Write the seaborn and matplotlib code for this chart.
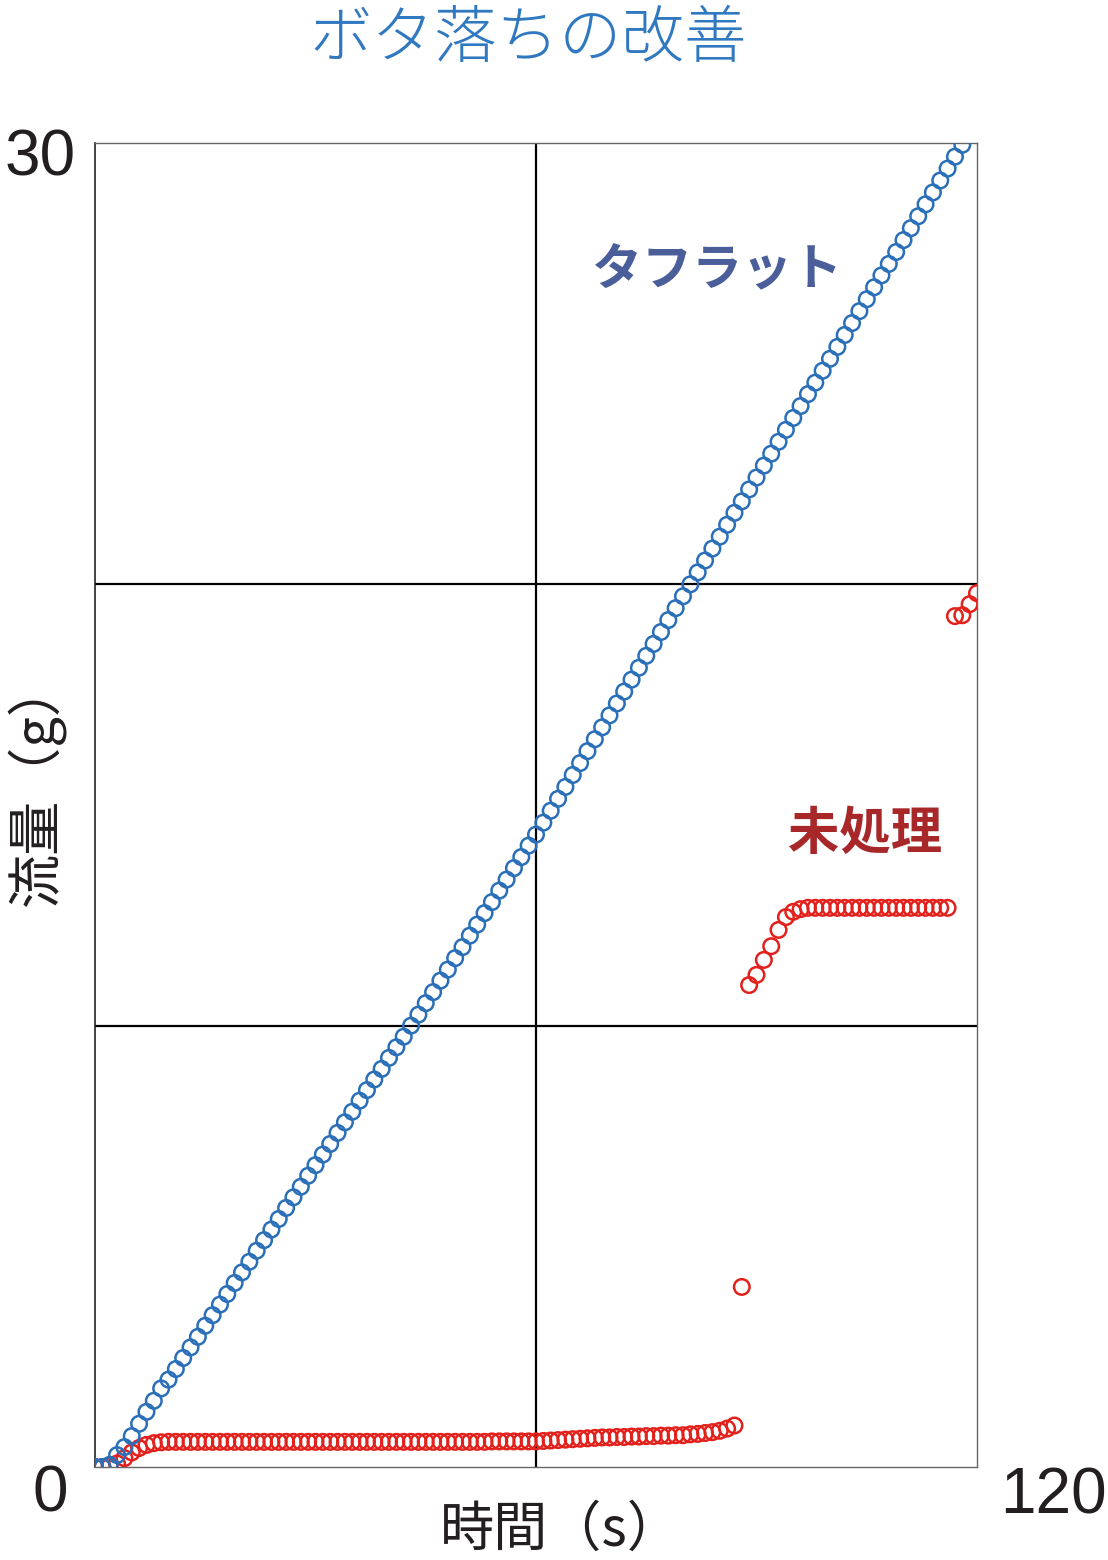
import seaborn as sns
import matplotlib.pyplot as plt
import pandas as pd

# 時間 (s)
t_blue = list(range(0, 119))
t_red = list(range(0, 121))

# タフラット
flow_blue = [
    0.00, 0.00, 0.05, 0.27, 0.45, 0.70, 0.98, 1.25, 1.50, 1.78,
    1.98, 2.22, 2.47, 2.71, 2.95, 3.20, 3.44, 3.68, 3.92, 4.17,
    4.41, 4.65, 4.90, 5.14, 5.38, 5.62, 5.87, 6.11, 6.35, 6.60,
    6.84, 7.08, 7.32, 7.57, 7.81, 8.05, 8.30, 8.54, 8.78, 9.02,
    9.27, 9.51, 9.75, 10.00, 10.25, 10.51, 10.76, 11.02, 11.27, 11.53,
    11.78, 12.04, 12.29, 12.55, 12.80, 13.06, 13.31, 13.57, 13.82, 14.08,
    14.33, 14.60, 14.87, 15.14, 15.41, 15.68, 15.95, 16.22, 16.49, 16.76,
    17.03, 17.30, 17.57, 17.84, 18.11, 18.38, 18.65, 18.92, 19.19, 19.46,
    19.73, 20.00, 20.27, 20.54, 20.81, 21.08, 21.35, 21.62, 21.88, 22.15,
    22.42, 22.69, 22.96, 23.23, 23.50, 23.77, 24.04, 24.31, 24.57, 24.84,
    25.11, 25.38, 25.65, 25.92, 26.19, 26.46, 26.73, 27.00, 27.26, 27.53,
    27.80, 28.07, 28.34, 28.61, 28.88, 29.15, 29.42, 29.69, 29.96,
]

# 未処理
flow_red = [
    0.00, 0.00, 0.02, 0.08, 0.20, 0.33, 0.43, 0.50, 0.54, 0.56,
    0.57, 0.57, 0.57, 0.57, 0.57, 0.57, 0.57, 0.57, 0.57, 0.57,
    0.57, 0.57, 0.57, 0.57, 0.57, 0.57, 0.57, 0.57, 0.57, 0.57,
    0.57, 0.57, 0.57, 0.57, 0.57, 0.57, 0.57, 0.57, 0.57, 0.57,
    0.57, 0.57, 0.57, 0.57, 0.57, 0.57, 0.57, 0.57, 0.57, 0.57,
    0.57, 0.57, 0.57, 0.57, 0.58, 0.58, 0.58, 0.58, 0.58, 0.58,
    0.58, 0.59, 0.60, 0.61, 0.62, 0.63, 0.64, 0.65, 0.66, 0.67,
    0.67, 0.68, 0.68, 0.69, 0.69, 0.70, 0.70, 0.71, 0.71, 0.72,
    0.72, 0.74, 0.75, 0.77, 0.79, 0.82, 0.87, 0.94, 4.08, 10.92,
    11.15, 11.49, 11.80, 12.17, 12.46, 12.58, 12.64, 12.67, 12.67, 12.67,
    12.67, 12.67, 12.67, 12.67, 12.67, 12.67, 12.67, 12.67, 12.67, 12.67,
    12.67, 12.67, 12.67, 12.67, 12.67, 12.67, 12.67, 19.28, 19.30, 19.55,
    19.80,
]

df_blue = pd.DataFrame({'時間': t_blue, '流量': flow_blue})
df_red = pd.DataFrame({'時間': t_red, '流量': flow_red})

sns.set_theme(style='white')
plt.rcParams['font.family'] = ['Noto Sans CJK JP', 'DejaVu Sans']

W, H = 1108, 1560
fig = plt.figure(figsize=(W / 100, H / 100), dpi=100)
ax = fig.add_axes([95 / W, 1 - 1467 / H, (977 - 95) / W, (1467 - 143) / H])

# 未処理 を先に、タフラット を上に
sns.scatterplot(data=df_red, x='時間', y='流量', ax=ax, marker='o', s=125,
                facecolors='none', edgecolors='#e3211c', linewidths=1.8, zorder=3)
sns.scatterplot(data=df_blue, x='時間', y='流量', ax=ax, marker='o', s=125,
                facecolors='none', edgecolors='#2a6fb8', linewidths=1.8, zorder=4)

ax.set_xlim(0, 120)
ax.set_ylim(0, 30)
ax.set_xticks([])
ax.set_yticks([])
ax.set_xlabel('')
ax.set_ylabel('')

# グリッド線
ax.axvline(60, color='black', lw=1.6, zorder=2)
for yv in (10, 20):
    ax.axhline(yv, color='black', lw=1.6, zorder=2)

for side in ['top', 'right', 'bottom']:
    ax.spines[side].set_color('#666666')
    ax.spines[side].set_linewidth(1.0)
ax.spines['left'].set_color('#222222')
ax.spines['left'].set_linewidth(1.2)


def px(x, y):
    return x / W, 1 - y / H


num_kw = dict(fontsize=46, color='#231f20', family=['Liberation Sans', 'DejaVu Sans'])
fig.text(*px(76, 158), '30', ha='right', va='center', **num_kw)
fig.text(*px(50, 1494), '0', ha='center', va='center', **num_kw)
fig.text(*px(1053, 1496), '120', ha='center', va='center', **num_kw)

# 軸ラベル
fig.text(*px(561, 1530), '時間（s）', ha='center', va='center', fontsize=39, color='#231f20')
fig.text(*px(36, 783), '流量（g）', ha='center', va='center', rotation=90,
         fontsize=39, color='#231f20')

# タイトル
fig.text(*px(528, 40), 'ボタ落ちの改善', ha='center', va='center', fontsize=45,
         fontweight='light', color='#3078c0')

# 系列名
fig.text(*px(717, 270), 'タフラット', ha='center', va='center', fontsize=36,
         fontweight='bold', color='#4a5e99')
fig.text(*px(865, 833), '未処理', ha='center', va='center', fontsize=37,
         fontweight='bold', color='#a8282a')

plt.savefig('out.png', dpi=100)
plt.close()
